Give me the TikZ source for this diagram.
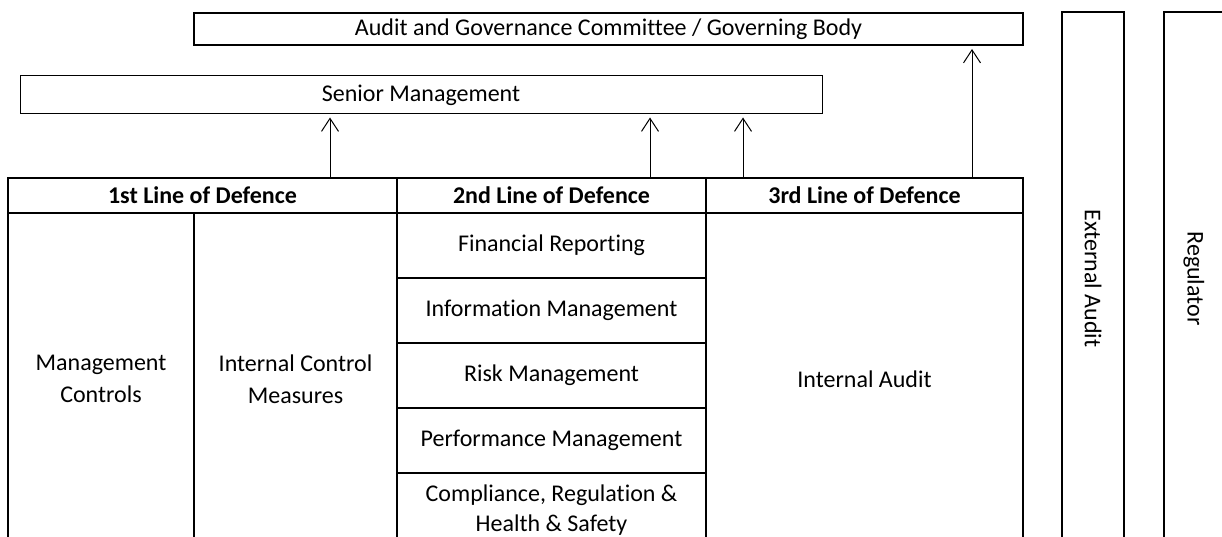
\documentclass[tikz,border=0pt]{standalone}
\usepackage{fontspec}
\setmainfont{Carlito}[Ligatures=NoCommon]
\usetikzlibrary{arrows.meta,calc,positioning}

\begin{document}
\begin{tikzpicture}[x=1pt,y=-1pt,
  cell/.style={draw,line width=2pt,inner sep=0pt,align=center,font=\fontsize{24}{32}\selectfont},
  head/.style={cell,font=\fontsize{24}{32}\selectfont\bfseries},
  up/.style={-{Straight Barb[length=13pt,width=17pt]},line width=1pt,shorten >=3pt}]
\useasboundingbox (0,0) rectangle (1222,537);
\clip (0,0) rectangle (1222,537);
% boards on top
\node[cell,minimum width=829,minimum height=32] (agc) at (608.5,29) {Audit and Governance Committee / Governing Body};
\node[cell,line width=1pt,minimum width=802,minimum height=38] (smt) at (421,95) {Senior Management};
% header row
\node[head,minimum width=389,minimum height=35] (h1) at (202.5,195.5) {1st Line of Defence};
\node[head,minimum width=309,minimum height=35] (h2) at (551.5,195.5) {2nd Line of Defence};
\node[head,minimum width=317,minimum height=35] (h3) at (864.5,195.5) {3rd Line of Defence};
% first line
\node[cell,minimum width=186,minimum height=332] (mc) at (101,379) {Management\\Controls};
\node[cell,minimum width=203,minimum height=332] (icm) at (295.5,379) {Internal Control\\Measures};
% second line
\node[cell,minimum width=309,minimum height=65] (fr) at (551.5,245.5) {Financial Reporting};
\node[cell,minimum width=309,minimum height=65] (im) at (551.5,310.5) {Information Management};
\node[cell,minimum width=309,minimum height=65] (rm) at (551.5,375.5) {Risk Management};
\node[cell,minimum width=309,minimum height=65] (pm) at (551.5,440.5) {Performance Management};
\node[cell,minimum width=309,minimum height=74,font=\fontsize{24}{30}\selectfont] (crh) at (551.5,510) {Compliance, Regulation \&\\Health \& Safety};
% third line
\node[cell,minimum width=317,minimum height=332] (ia) at (864.5,379) {Internal Audit};
% outside the organisation
\node[cell,rotate=-90,minimum width=533,minimum height=62] (ext) at (1093,278.5) {External Audit};
\node[cell,rotate=-90,minimum width=533,minimum height=60] (reg) at (1194,278.5) {Regulator};
% reporting lines
\draw[up] (h1.north -| 330,0) -- (smt.south -| 330,0);
\draw[up] (h2.north -| 650,0) -- (smt.south -| 650,0);
\draw[up] (h3.north -| 743,0) -- (smt.south -| 743,0);
\draw[up] (h3.north -| 972,0) -- (agc.south -| 972,0);
\end{tikzpicture}
\end{document}
